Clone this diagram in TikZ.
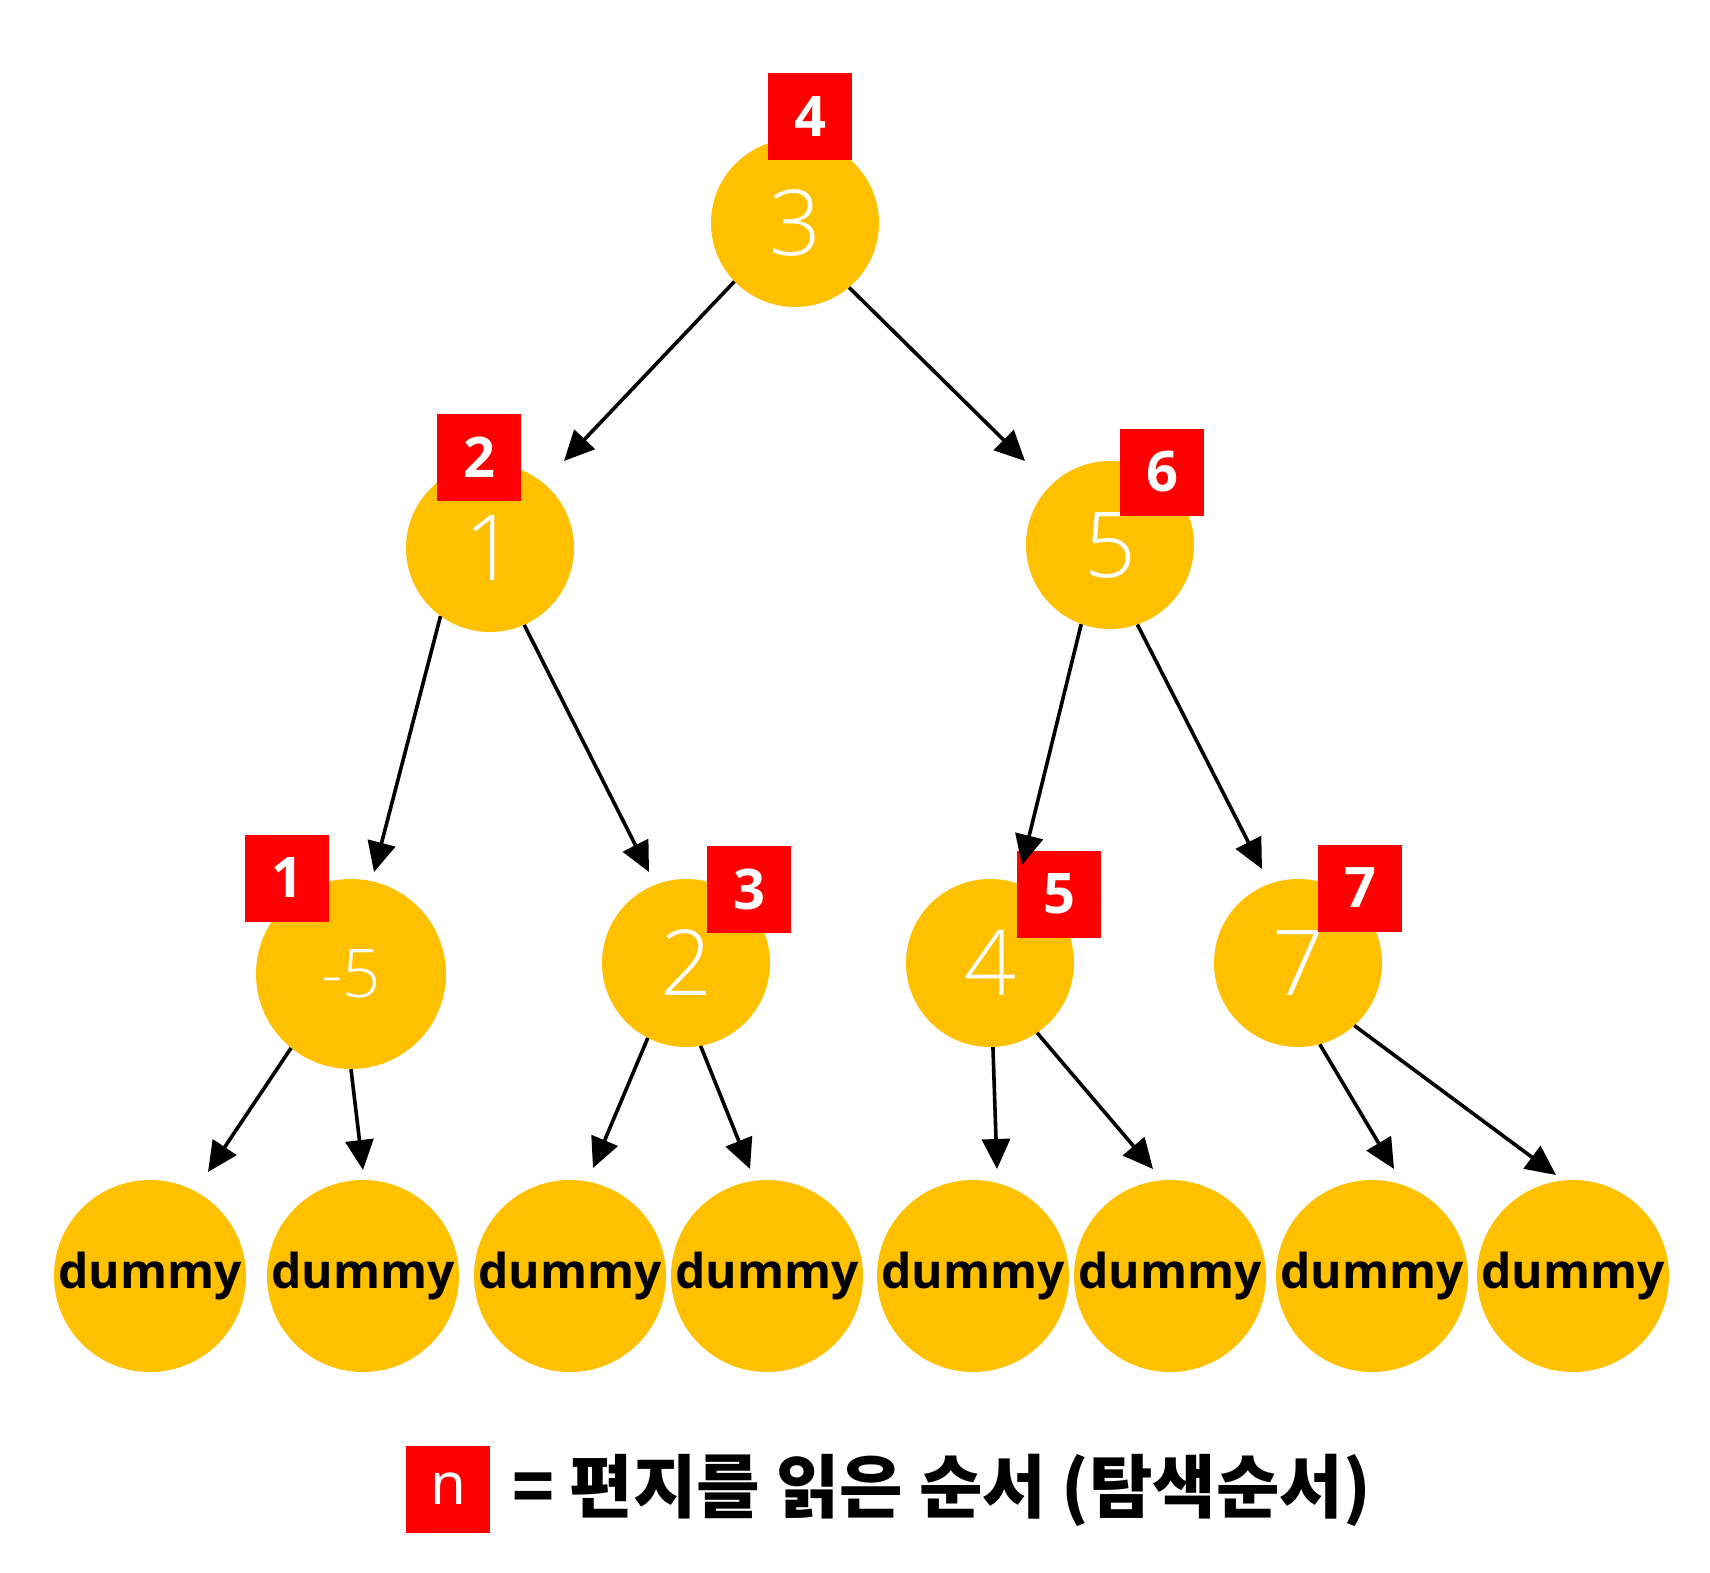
\documentclass[tikz,border=0pt]{standalone}
\usepackage{fontspec}
\usetikzlibrary{arrows.meta}
\setmainfont{Noto Sans}
\IfFontExistsTF{Open Sans Light}{\newfontfamily\lightf{Open Sans Light}}{\newfontfamily\lightf{Open Sans}}
\IfFontExistsTF{Open Sans Bold}{\newfontfamily\boldf{Open Sans Bold}}{\newfontfamily\boldf{Liberation Sans}\bfseries}
\newfontfamily\kr{Noto Sans CJK KR}
\definecolor{gold}{HTML}{FFC000}
\definecolor{boxred}{HTML}{FF0000}
\begin{document}
\begin{tikzpicture}[x=1pt,y=-1pt,
  tnode/.style={circle,fill=gold,minimum size=168pt,inner sep=0pt,text=white,font=\lightf\fontsize{91}{100}\selectfont},
  bignode/.style={tnode,minimum size=190pt,font=\lightf\fontsize{67}{75}\selectfont},
  dnode/.style={circle,fill=gold,minimum size=192pt,inner sep=0pt},
  dtext/.style={inner sep=0pt,font=\boldf\fontsize{48}{54}\selectfont},
  order/.style={rectangle,fill=boxred,minimum width=84pt,minimum height=87pt,inner sep=0pt,text=white,font=\boldf\fontsize{56}{62}\selectfont},
  arr/.style={line width=3.6pt,-{Triangle[length=30pt,width=28pt]}},
]
\useasboundingbox[fill=white] (0,0) rectangle (1710,1573);

% value nodes
\node[tnode] (n3) at (795,223) {3};
\node[tnode] (n1) at (490,548) {1};
\node[tnode] (n5) at (1110,545) {5};
\node[bignode] (nm5) at (351,974) {-5};
\node[tnode] (n2) at (686,963) {2};
\node[tnode] (n4) at (990,963) {4};
\node[tnode] (n7) at (1298,963) {7};

% dummy leaves
\foreach \i/\x in {1/150,2/363,3/570,4/767,5/973,6/1170,7/1372,8/1573}{
  \node[dnode] (d\i) at (\x,1276) {};
  \node[dtext] (d\i t) at (d\i.center) {dummy};
}

% order boxes
\node[order] (b4) at (810,117) {4};
\node[order] (b2) at (479,457) {2};
\node[order] (b6) at (1162,472) {6};
\node[order] (b1) at (287,878) {1};
\node[order] (b3) at (749,889) {3};
\node[order] (b5) at (1059,894) {5};
\node[order] (b7) at (1360,888) {7};

% arrows
\draw[arr] (n3.-136) -- ([shift={(74,-87)}]n1.center);
\draw[arr] (n3.-50) -- ([shift={(-85,-84)}]n5.center);
\draw[arr] (n1.-126) -- ([shift={(23,-102)}]nm5.center);
\draw[arr] (n1.-66) -- ([shift={(-37,-91)}]n2.center);
\draw[arr] (n5.-110) -- ([shift={(32,-98)}]n4.center);
\draw[arr] (n5.-71) -- ([shift={(-36,-94)}]n7.center);
\draw[arr] (nm5.-129) -- ([shift={(58,-104)}]d1.center);
\draw[arr] (nm5.-90) -- ([shift={(0,-106)}]d2.center);
\draw[arr] (n2.-117) -- ([shift={(23,-108)}]d3.center);
\draw[arr] (n2.-80) -- ([shift={(-17,-107)}]d4.center);
\draw[arr] (n4.-88) -- ([shift={(24,-107)}]d5.center);
\draw[arr] (n4.-56) -- ([shift={(-17,-107)}]d6.center);
\draw[arr] (n7.-75) -- ([shift={(22,-107)}]d7.center);
\draw[arr] (n7.-48) -- ([shift={(-17,-101)}]d8.center);

% legend
\node[order,font=\fontsize{58}{64}\selectfont] (bn) at (448,1489) {n};
\node[anchor=west,inner sep=0pt,font=\kr\bfseries\fontsize{69}{76}\selectfont] (leg) at (512,1490) {= 편지를 읽은 순서 (탐색순서)};
\end{tikzpicture}
\end{document}
